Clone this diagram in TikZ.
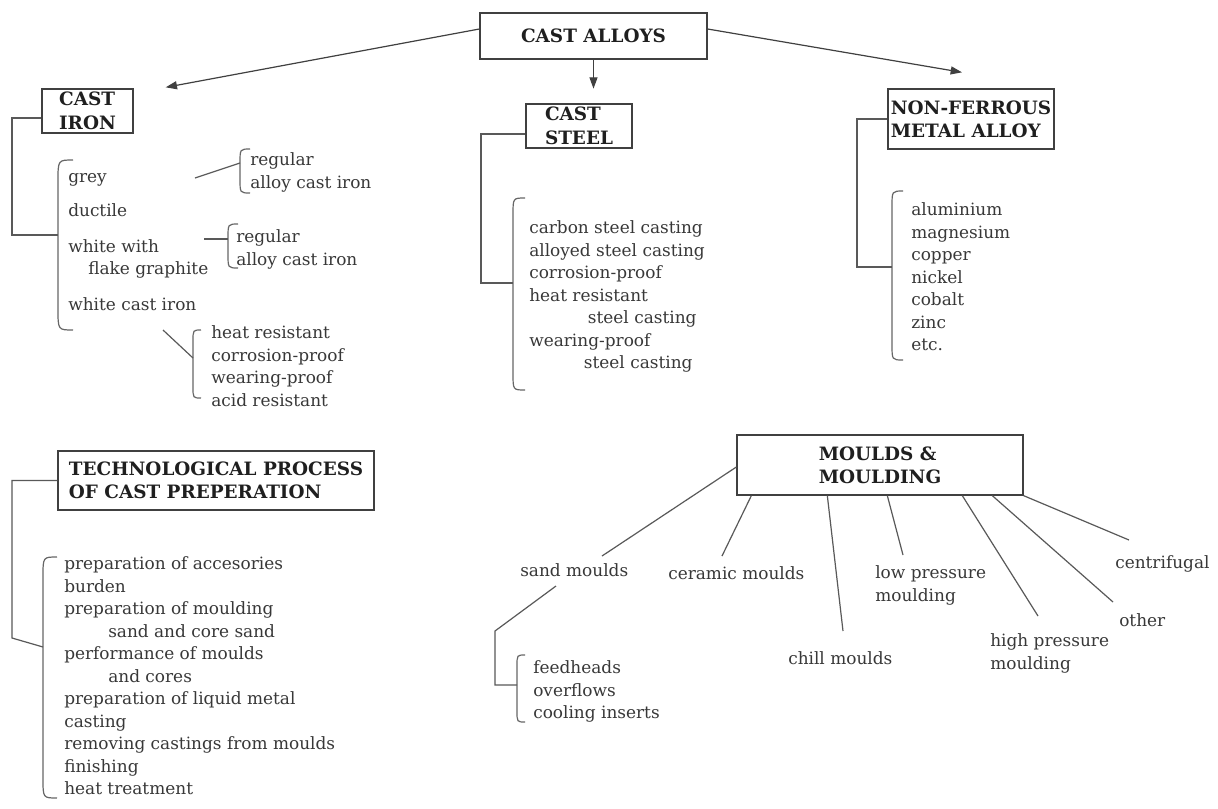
\documentclass[tikz,border=0pt]{standalone}
\usepackage{fontspec}
\setmainfont{DejaVu Serif}
\usetikzlibrary{arrows.meta,calc}
\newcommand\mybrace[4]{\draw[brk] ({#1+#4},#2) .. controls (#1,#2) .. (#1,{#2+1.4*#4}) -- (#1,{#3-1.4*#4}) .. controls (#1,#3) .. ({#1+#4},#3);}
\begin{document}
\begin{tikzpicture}[x=0.75pt,y=-0.75pt,
  box/.style={draw=black!75, line width=1pt, fill=white, font=\fontsize{13.8}{17}\selectfont\bfseries, text=black!88, align=left, inner sep=0pt},
  bx/.style 2 args={box, minimum width=#1*0.75pt, minimum height=#2*0.75pt},
  lst/.style={anchor=north west, align=left, font=\fontsize{12.7}{16.9}\selectfont, text=black!78, inner sep=0pt, execute at begin node=\strut, yshift=-3.75pt},
  con/.style={draw=black!65, line width=0.9pt},
  arr/.style={draw=black!75, line width=0.9pt, -{Triangle[length=8.5pt,width=6pt]}},
  brk/.style={draw=black!60, line width=0.9pt}]
\useasboundingbox (0,0) rectangle (1218,808);
\fill[white] (0,0) rectangle (1218,808);

% boxes
\node[bx={227}{46}] (alloys) at (593.5,36) {CAST ALLOYS};
\node[bx={91}{44}, font=\fontsize{13.8}{17.8}\selectfont\bfseries] (iron) at (87.5,111) {CAST\\IRON};
\node[bx={106}{44}, font=\fontsize{13.8}{17.8}\selectfont\bfseries] (steel) at (579,126) {CAST\\STEEL};
\node[bx={166}{60}] (nonfe) at (971,119) {NON-FERROUS\\METAL ALLOY};
\node[bx={316}{59}] (tech) at (216,480.5) {TECHNOLOGICAL PROCESS\\OF CAST PREPERATION};
\node[bx={286}{60}] (moulds) at (880,465) {MOULDS \&\\MOULDING};

% arrows
\draw[arr] ($(alloys.west)+(0,-7)$) -- ($(iron.north east)+(32,-1)$);
\draw[arr] (alloys.south) -- ($(alloys.south)+(0,29)$);
\draw[arr] ($(alloys.east)+(0,-7)$) -- ($(nonfe.north)+(-9,-16)$);

% cast iron
\node[lst] (ironlist) at (68,168.4) {grey\\[8.5pt]ductile\\[10pt]white with\\\hspace*{15pt}flake graphite\\[10pt]white cast iron};
\node[lst] (isub1) at (250,147.4) {regular\\alloy cast iron};
\node[lst] (isub2) at (236,224.4) {regular\\alloy cast iron};
\node[lst] (isub3) at (211,320.4) {heat resistant\\corrosion-proof\\wearing-proof\\acid resistant};
\coordinate (ironbr) at (58,235);
\mybrace{58}{160}{330}{15}
\mybrace{240}{149}{193}{10}
\mybrace{228}{224}{268}{10}
\mybrace{193}{330}{398}{8}
\draw[con] ($(iron.west)+(0,7)$) -| ($(ironbr)+(-46,0)$) -- (ironbr);
\coordinate (g1) at (195,178); \coordinate (ib1) at (240,163);
\coordinate (g2) at (204,239); \coordinate (ib2) at (228,239);
\coordinate (g3) at (163,330); \coordinate (ib3) at (193,358);
\draw[con] (g1) -- (ib1);
\draw[con] (g2) -- (ib2);
\draw[con] (g3) -- (ib3);

% cast steel
\node[lst] (steellist) at (529,215.4) {carbon steel casting\\alloyed steel casting\\corrosion-proof\\heat resistant\\\hspace*{44pt}steel casting\\wearing-proof\\\hspace*{41pt}steel casting};
\coordinate (steelbr) at (513,283);
\mybrace{513}{198}{390}{12}
\draw[con] ($(steel.west)+(0,8)$) -| ($(steelbr)+(-32,0)$) -- (steelbr);

% non-ferrous
\node[lst] (nonfelist) at (911,197.4) {aluminium\\magnesium\\copper\\nickel\\cobalt\\zinc\\etc.};
\coordinate (nonfebr) at (892,267);
\mybrace{892}{191}{360}{11}
\draw[con] (nonfe.west) -| ($(nonfebr)+(-35,0)$) -- (nonfebr);

% technological process
\node[lst] (techlist) at (64,551.4) {preparation of accesories\\burden\\preparation of moulding\\\hspace*{33pt}sand and core sand\\performance of moulds\\\hspace*{33pt}and cores\\preparation of liquid metal\\casting\\removing castings from moulds\\finishing\\heat treatment};
\coordinate (techbr) at (43,647);
\mybrace{43}{557}{798}{14}
\draw[con] (tech.west) -| ($(techbr)+(-31,-9)$) -- (techbr);

% moulds
\node[lst] (sand) at (520,555.4) {sand moulds};
\node[lst] (ceramic) at (668,558.4) {ceramic moulds};
\node[lst] (chill) at (788,643.4) {chill moulds};
\node[lst] (low) at (875,560.4) {low pressure\\moulding};
\node[lst] (high) at (990,628.4) {high pressure\\moulding};
\node[lst] (other) at (1119,605.4) {other};
\node[lst] (centri) at (1115,547.4) {centrifugal};
\coordinate (e1) at (602,556);
\coordinate (e2) at (722,556);
\coordinate (e3) at (843,631);
\coordinate (e4) at (903,555);
\coordinate (e5) at (1038,616);
\coordinate (e6) at (1113,602);
\coordinate (e7) at (1129,540);
\draw[con] ($(moulds.west)+(0,2)$) -- (e1);
\draw[con] ($(moulds.south west)+(15,0)$) -- (e2);
\draw[con] ($(moulds.south west)+(91,0)$) -- (e3);
\draw[con] ($(moulds.south west)+(151,0)$) -- (e4);
\draw[con] ($(moulds.south west)+(226,0)$) -- (e5);
\draw[con] ($(moulds.south west)+(256,0)$) -- (e6);
\draw[con] (moulds.south east) -- (e7);

% sand sub list
\node[lst] (sandsub) at (533,655.4) {feedheads\\overflows\\cooling inserts};
\coordinate (sandst) at (556,586);
\coordinate (sandbr) at (517,685);
\mybrace{517}{655}{722}{8}
\draw[con] (sandst) -- ($(sandbr)+(-22,-54)$) -- ($(sandbr)+(-22,0)$) -- (sandbr);
\end{tikzpicture}
\end{document}
